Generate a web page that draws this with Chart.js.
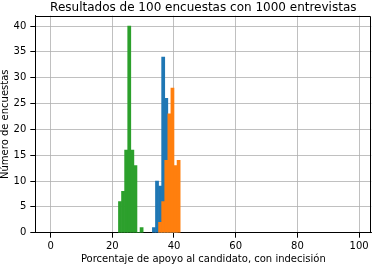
<!DOCTYPE html>
<html><head><meta charset="utf-8">
<script src="https://cdn.jsdelivr.net/npm/chart.js@4"></script>
<style>html,body{margin:0;padding:0;background:#fff}canvas{display:block}</style>
</head><body>
<canvas id="c" width="372" height="265"></canvas>
<script>
const titleText = "Resultados de 100 encuestas con 1000 entrevistas";
const xLabel = "Porcentaje de apoyo al candidato, con indecisión";
const yLabel = "Número de encuestas";
// histogram bins (left edge, width 1) and counts
const blueBins = [33, 34, 35, 36, 37, 38, 39, 40];
const blueCounts = [1, 10, 9, 34, 26, 14, 5, 1];
const orangeBins = [35, 36, 37, 38, 39, 40, 41];
const orangeCounts = [2, 6, 14, 23, 28, 13, 14];
const greenBins = [22, 23, 24, 25, 26, 27, 28, 29];
const greenCounts = [6, 8, 16, 40, 16, 13, 0, 1];
const xTicks = [0, 20, 40, 60, 80, 100];
const yTicks = [0, 5, 10, 15, 20, 25, 30, 35, 40];
const xRange = [-4.95, 103.95];
const yRange = [0, 42];

const toPoints = (bins, counts) => bins.map((b, i) => ({x: b + 0.5, y: counts[i]}));
const FONT = "'DejaVu Sans'";

const framePlugin = {
  id: 'frame',
  afterDraw(chart) {
    const {ctx, chartArea: a} = chart;
    ctx.save();
    ctx.strokeStyle = '#000';
    ctx.lineWidth = 1;
    ctx.beginPath();
    ctx.moveTo(Math.round(a.left) + 0.5, Math.round(a.top) + 0.5);
    ctx.lineTo(Math.round(a.right) - 0.5, Math.round(a.top) + 0.5);
    ctx.lineTo(Math.round(a.right) - 0.5, Math.round(a.bottom));
    ctx.stroke();
    ctx.fillStyle = '#000';
    ctx.font = "12px " + FONT;
    ctx.textAlign = 'center';
    ctx.textBaseline = 'alphabetic';
    ctx.fillText(titleText, (a.left + a.right) / 2, 10.5);
    ctx.restore();
  }
};

new Chart(document.getElementById('c'), {
  type: 'bar',
  data: {
    datasets: [
      {data: toPoints(blueBins, blueCounts), backgroundColor: '#1f77b4', order: 3},
      {data: toPoints(orangeBins, orangeCounts), backgroundColor: '#ff7f0e', order: 2},
      {data: toPoints(greenBins, greenCounts), backgroundColor: '#2ca02c', order: 1}
    ]
  },
  options: {
    responsive: false,
    animation: false,
    devicePixelRatio: 1,
    layout: {padding: {top: 15.7, right: 0.7, bottom: 0, left: 0}},
    datasets: {bar: {grouped: false, barPercentage: 1, categoryPercentage: 1, borderWidth: 0}},
    plugins: {legend: {display: false}, tooltip: {enabled: false}, title: {display: false}},
    scales: {
      x: {
        type: 'linear', min: xRange[0], max: xRange[1], offset: false, z: 1,
        afterBuildTicks: s => { s.ticks = xTicks.map(v => ({value: v})); },
        afterFit: s => { s.height = 32.3; },
        ticks: {font: {family: FONT, size: 10}, color: '#000', padding: 3, maxRotation: 0, autoSkip: false},
        grid: {offset: false, color: '#b0b0b0', lineWidth: 0.8, tickColor: '#000', tickLength: 5, tickWidth: 1},
        border: {color: '#000', width: 1},
        title: {display: true, text: xLabel, color: '#000', font: {family: FONT, size: 10}, padding: {top: 0, bottom: 0}}
      },
      y: {
        type: 'linear', min: yRange[0], max: yRange[1], z: 1,
        afterBuildTicks: s => { s.ticks = yTicks.map(v => ({value: v})); },
        afterFit: s => { s.width = 35.3; },
        ticks: {font: {family: FONT, size: 10}, color: '#000', padding: 4},
        grid: {color: '#b0b0b0', lineWidth: 0.8, tickColor: '#000', tickLength: 5, tickWidth: 1},
        border: {color: '#000', width: 1},
        title: {display: true, text: yLabel, color: '#000', font: {family: FONT, size: 10, lineHeight: 1}, padding: {top: 0, bottom: 0}}
      }
    }
  },
  plugins: [framePlugin]
});
</script>
</body></html>
